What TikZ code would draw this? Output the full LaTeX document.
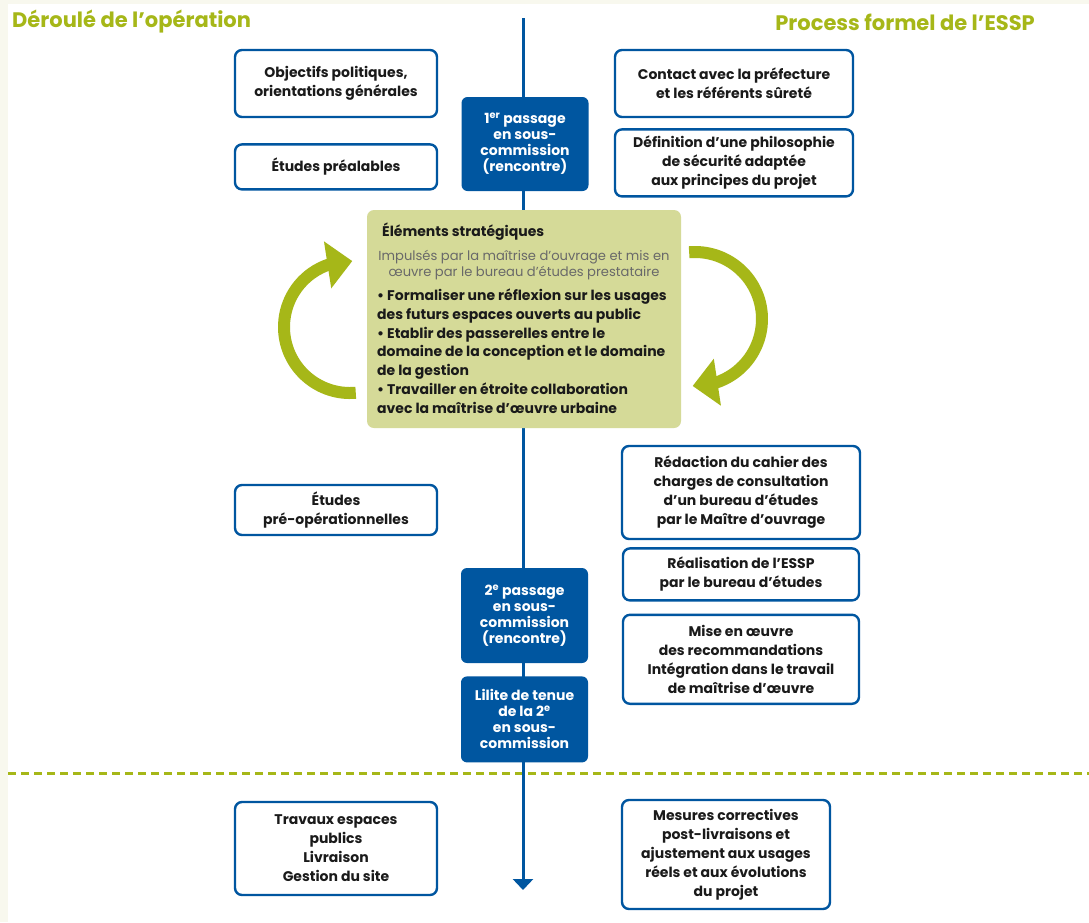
\documentclass[tikz,border=0pt]{standalone}
\usepackage{fontspec}
\setmainfont{Poppins}
\usepackage{tikz}
\usetikzlibrary{positioning,arrows.meta,bending}

\definecolor{essblue}{RGB}{0,86,160}
\definecolor{olivegreen}{RGB}{166,183,24}
\definecolor{stratfill}{RGB}{213,218,152}
\definecolor{textdark}{RGB}{26,26,26}
\definecolor{graytext}{RGB}{105,105,105}
\definecolor{cream}{RGB}{248,248,238}

\begin{document}
\begin{tikzpicture}[x=1pt,y=-1pt,
    box/.style={draw=essblue,line width=2.4pt,rounded corners=7pt,fill=white,align=center,
        text=textdark,font=\bfseries\fontsize{14}{19}\selectfont,inner sep=0pt},
    passage/.style={fill=essblue,rounded corners=6pt,align=center,text=white,
        font=\bfseries\fontsize{14}{16}\selectfont,inner sep=0pt,minimum width=127pt},
    heading/.style={font=\bfseries\fontsize{21}{24}\selectfont,text=olivegreen,inner sep=0pt},
    cycle/.style={draw=olivegreen,line width=12pt,-{Triangle[length=25pt,width=46pt]}}]
    % page
    \fill[cream] (0,0) rectangle (1089,922);
    \fill[white] (8,4) rectangle (1089,922);
    \useasboundingbox (0,0) rectangle (1089,922);

    % headings
    \node[heading,anchor=west] (deroule) at (12,22) {Déroulé de l’opération};
    \node[heading,anchor=east] (process) at (1035,22) {Process formel de l’ESSP};

    % separator and time line
    \coordinate (sepL) at (8,773);
    \coordinate (sepR) at (1089,773);
    \draw[olivegreen,line width=3pt,dash pattern=on 8pt off 5pt] (sepL) -- (sepR);
    \coordinate (lineTop) at (523,18);
    \coordinate (lineEnd) at (523,890);
    \draw[essblue,line width=3pt,-{Triangle[length=11pt,width=20pt]}] (lineTop) -- (lineEnd);

    % left column
    \node[box,minimum width=202pt,minimum height=67pt] (objectifs) at (336,83.5)
        {Objectifs politiques,\\orientations générales};
    \node[box,minimum width=202pt,minimum height=45pt] (prealables) [below=25pt of objectifs]
        {Études préalables};
    \node[box,minimum width=202pt,minimum height=50pt] (preop) at (336,510)
        {Études\\pré-opérationnelles};
    \node[box,minimum width=202pt,minimum height=93pt] (travaux) at (336,848.5)
        {Travaux espaces\\publics\\Livraison\\Gestion du site};

    % right column
    \node[box,minimum width=238pt,minimum height=67pt] (contact) at (734,83.5)
        {Contact avec la préfecture\\et les référents sûreté};
    \node[box,minimum width=238pt,minimum height=67pt] (philosophie) [below=10pt of contact]
        {Définition d’une philosophie\\de sécurité adaptée\\aux principes du projet};
    \node[box,minimum width=238pt,minimum height=93pt] (redaction) at (741,492.5)
        {Rédaction du cahier des\\charges de consultation\\d’un bureau d’études\\par le Maître d’ouvrage};
    \node[box,minimum width=236pt,minimum height=52pt] (realisation) [below=7pt of redaction]
        {Réalisation de l’ESSP\\par le bureau d’études};
    \node[box,minimum width=236pt,minimum height=89pt] (miseoeuvre) [below=12pt of realisation]
        {Mise en œuvre\\des recommandations\\Intégration dans le travail\\de maîtrise d’œuvre};
    \node[box,minimum width=208pt,minimum height=109pt] (mesures) at (726,854.5)
        {Mesures correctives\\post-livraisons et\\ajustement aux usages\\réels et aux évolutions\\du projet};

    % passages en sous-commission
    \node[passage,minimum height=94pt] (passage1) at (525,144)
        {1\textsuperscript{er} passage\\en sous-\\commission\\(rencontre)};
    \node[passage,minimum height=95pt] (passage2) at (524.5,615.5)
        {2\textsuperscript{e} passage\\en sous-\\commission\\(rencontre)};
    \node[passage,minimum height=86pt] (limite) [below=13pt of passage2]
        {Lilite de tenue\\de la 2\textsuperscript{e}\\en sous-\\commission};

    % strategic elements
    \node[fill=stratfill,rounded corners=7pt,minimum width=314pt,minimum height=218pt] (strat) at (524,319) {};
    \node[anchor=west,inner sep=0pt,text=textdark,font=\bfseries\fontsize{14}{16}\selectfont] (stratTitle) at (382,232)
        {Éléments stratégiques};
    \node[align=center,inner sep=0pt,text=graytext,font=\fontsize{13.1}{16}\selectfont] (stratIntro) at (524,265)
        {Impulsés par la maîtrise d’ouvrage et mis en\\œuvre par le bureau d’études prestataire};
    \node[anchor=north west,align=left,inner sep=0pt,text=textdark,font=\bfseries\fontsize{14}{18.7}\selectfont] (stratList) at (377,289)
        {• Formaliser une réflexion sur les usages\\des futurs espaces ouverts au public\\• Etablir des passerelles entre le\\domaine de la conception et le domaine\\de la gestion\\• Travailler en étroite collaboration\\avec la maîtrise d’œuvre urbaine};

    % cycle arrows
    \coordinate (cycleL) at (350,327);
    \coordinate (cycleR) at (695,319);
    \draw[cycle] ([shift={(85:66)}]cycleL) arc[start angle=85,end angle=272,radius=66];
    \draw[cycle] ([shift={(-95:67)}]cycleR) arc[start angle=-95,end angle=92,radius=67];
\end{tikzpicture}
\end{document}
